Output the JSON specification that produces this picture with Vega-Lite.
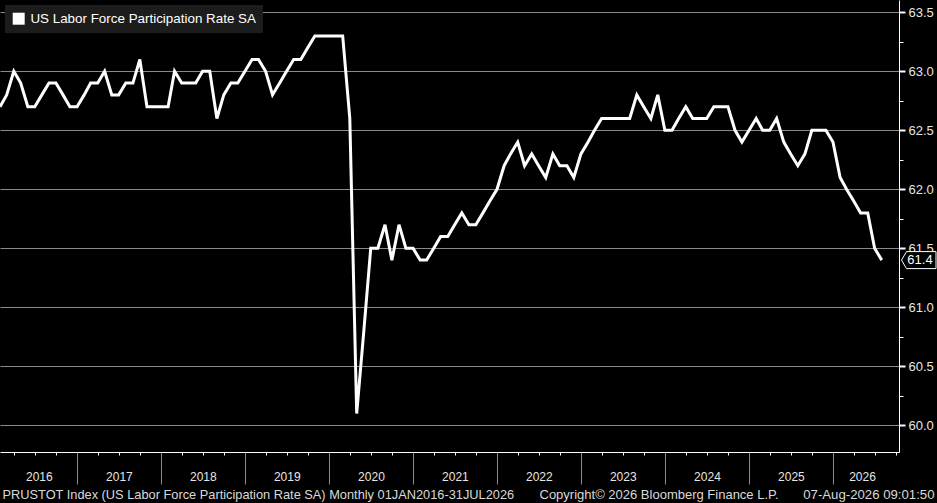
{
  "$schema": "https://vega.github.io/schema/vega-lite/v6.json",
  "width": 899,
  "height": 452,
  "autosize": {"type": "none"},
  "padding": {"left": 0, "top": 0, "right": 38, "bottom": 51},
  "background": "#000000",
  "config": {
    "view": {"stroke": null},
    "font": "Liberation Sans"
  },
  "data": {
    "values": [
      {"date": "2016-01-31", "rate": 62.7}, {"date": "2016-02-29", "rate": 62.8}, {"date": "2016-03-31", "rate": 63.0},
      {"date": "2016-04-30", "rate": 62.9}, {"date": "2016-05-31", "rate": 62.7}, {"date": "2016-06-30", "rate": 62.7},
      {"date": "2016-07-31", "rate": 62.8}, {"date": "2016-08-31", "rate": 62.9}, {"date": "2016-09-30", "rate": 62.9},
      {"date": "2016-10-31", "rate": 62.8}, {"date": "2016-11-30", "rate": 62.7}, {"date": "2016-12-31", "rate": 62.7},
      {"date": "2017-01-31", "rate": 62.8}, {"date": "2017-02-28", "rate": 62.9}, {"date": "2017-03-31", "rate": 62.9},
      {"date": "2017-04-30", "rate": 63.0}, {"date": "2017-05-31", "rate": 62.8}, {"date": "2017-06-30", "rate": 62.8},
      {"date": "2017-07-31", "rate": 62.9}, {"date": "2017-08-31", "rate": 62.9}, {"date": "2017-09-30", "rate": 63.1},
      {"date": "2017-10-31", "rate": 62.7}, {"date": "2017-11-30", "rate": 62.7}, {"date": "2017-12-31", "rate": 62.7},
      {"date": "2018-01-31", "rate": 62.7}, {"date": "2018-02-28", "rate": 63.0}, {"date": "2018-03-31", "rate": 62.9},
      {"date": "2018-04-30", "rate": 62.9}, {"date": "2018-05-31", "rate": 62.9}, {"date": "2018-06-30", "rate": 63.0},
      {"date": "2018-07-31", "rate": 63.0}, {"date": "2018-08-31", "rate": 62.6}, {"date": "2018-09-30", "rate": 62.8},
      {"date": "2018-10-31", "rate": 62.9}, {"date": "2018-11-30", "rate": 62.9}, {"date": "2018-12-31", "rate": 63.0},
      {"date": "2019-01-31", "rate": 63.1}, {"date": "2019-02-28", "rate": 63.1}, {"date": "2019-03-31", "rate": 63.0},
      {"date": "2019-04-30", "rate": 62.8}, {"date": "2019-05-31", "rate": 62.9}, {"date": "2019-06-30", "rate": 63.0},
      {"date": "2019-07-31", "rate": 63.1}, {"date": "2019-08-31", "rate": 63.1}, {"date": "2019-09-30", "rate": 63.2},
      {"date": "2019-10-31", "rate": 63.3}, {"date": "2019-11-30", "rate": 63.3}, {"date": "2019-12-31", "rate": 63.3},
      {"date": "2020-01-31", "rate": 63.3}, {"date": "2020-02-29", "rate": 63.3}, {"date": "2020-03-31", "rate": 62.6},
      {"date": "2020-04-30", "rate": 60.1}, {"date": "2020-05-31", "rate": 60.8}, {"date": "2020-06-30", "rate": 61.5},
      {"date": "2020-07-31", "rate": 61.5}, {"date": "2020-08-31", "rate": 61.7}, {"date": "2020-09-30", "rate": 61.4},
      {"date": "2020-10-31", "rate": 61.7}, {"date": "2020-11-30", "rate": 61.5}, {"date": "2020-12-31", "rate": 61.5},
      {"date": "2021-01-31", "rate": 61.4}, {"date": "2021-02-28", "rate": 61.4}, {"date": "2021-03-31", "rate": 61.5},
      {"date": "2021-04-30", "rate": 61.6}, {"date": "2021-05-31", "rate": 61.6}, {"date": "2021-06-30", "rate": 61.7},
      {"date": "2021-07-31", "rate": 61.8}, {"date": "2021-08-31", "rate": 61.7}, {"date": "2021-09-30", "rate": 61.7},
      {"date": "2021-10-31", "rate": 61.8}, {"date": "2021-11-30", "rate": 61.9}, {"date": "2021-12-31", "rate": 62.0},
      {"date": "2022-01-31", "rate": 62.2}, {"date": "2022-02-28", "rate": 62.3}, {"date": "2022-03-31", "rate": 62.4},
      {"date": "2022-04-30", "rate": 62.2}, {"date": "2022-05-31", "rate": 62.3}, {"date": "2022-06-30", "rate": 62.2},
      {"date": "2022-07-31", "rate": 62.1}, {"date": "2022-08-31", "rate": 62.3}, {"date": "2022-09-30", "rate": 62.2},
      {"date": "2022-10-31", "rate": 62.2}, {"date": "2022-11-30", "rate": 62.1}, {"date": "2022-12-31", "rate": 62.3},
      {"date": "2023-01-31", "rate": 62.4}, {"date": "2023-02-28", "rate": 62.5}, {"date": "2023-03-31", "rate": 62.6},
      {"date": "2023-04-30", "rate": 62.6}, {"date": "2023-05-31", "rate": 62.6}, {"date": "2023-06-30", "rate": 62.6},
      {"date": "2023-07-31", "rate": 62.6}, {"date": "2023-08-31", "rate": 62.8}, {"date": "2023-09-30", "rate": 62.7},
      {"date": "2023-10-31", "rate": 62.6}, {"date": "2023-11-30", "rate": 62.8}, {"date": "2023-12-31", "rate": 62.5},
      {"date": "2024-01-31", "rate": 62.5}, {"date": "2024-02-29", "rate": 62.6}, {"date": "2024-03-31", "rate": 62.7},
      {"date": "2024-04-30", "rate": 62.6}, {"date": "2024-05-31", "rate": 62.6}, {"date": "2024-06-30", "rate": 62.6},
      {"date": "2024-07-31", "rate": 62.7}, {"date": "2024-08-31", "rate": 62.7}, {"date": "2024-09-30", "rate": 62.7},
      {"date": "2024-10-31", "rate": 62.5}, {"date": "2024-11-30", "rate": 62.4}, {"date": "2024-12-31", "rate": 62.5},
      {"date": "2025-01-31", "rate": 62.6}, {"date": "2025-02-28", "rate": 62.5}, {"date": "2025-03-31", "rate": 62.5},
      {"date": "2025-04-30", "rate": 62.6}, {"date": "2025-05-31", "rate": 62.4}, {"date": "2025-06-30", "rate": 62.3},
      {"date": "2025-07-31", "rate": 62.2}, {"date": "2025-08-31", "rate": 62.3}, {"date": "2025-09-30", "rate": 62.5},
      {"date": "2025-11-30", "rate": 62.5}, {"date": "2025-12-31", "rate": 62.4},
      {"date": "2026-01-31", "rate": 62.1}, {"date": "2026-02-28", "rate": 62.0}, {"date": "2026-03-31", "rate": 61.9},
      {"date": "2026-04-30", "rate": 61.8}, {"date": "2026-05-31", "rate": 61.8}, {"date": "2026-06-30", "rate": 61.5},
      {"date": "2026-07-31", "rate": 61.4}
    ]
  },
  "resolve": {"axis": {"x": "independent", "y": "independent"}},
  "layer": [
    {
      "mark": {"type": "line", "strokeWidth": 3, "color": "#ffffff"},
      "encoding": {
        "x": {
          "field": "date", "type": "temporal",
          "scale": {"type": "utc", "domain": [{"year": 2016, "month": 1, "date": 31, "utc": true}, {"year": 2026, "month": 10, "date": 14, "utc": true}]},
          "axis": {
            "orient": "bottom",
            "values": [
              {"year": 2016, "month": 7, "date": 18, "utc": true}, {"year": 2017, "month": 7, "date": 1, "utc": true},
              {"year": 2018, "month": 7, "date": 1, "utc": true}, {"year": 2019, "month": 7, "date": 1, "utc": true},
              {"year": 2020, "month": 7, "date": 1, "utc": true}, {"year": 2021, "month": 7, "date": 1, "utc": true},
              {"year": 2022, "month": 7, "date": 1, "utc": true}, {"year": 2023, "month": 7, "date": 1, "utc": true},
              {"year": 2024, "month": 7, "date": 1, "utc": true}, {"year": 2025, "month": 7, "date": 1, "utc": true},
              {"year": 2026, "month": 5, "date": 6, "utc": true}
            ],
            "format": "%Y",
            "ticks": false, "tickSize": 0, "grid": false,
            "domain": true, "domainColor": "#ffffff", "domainWidth": 1,
            "labelColor": "#e6e6e6", "labelFontSize": 12, "labelFont": "Liberation Sans",
            "labelPadding": 19, "labelBaseline": "top", "labelAlign": "center",
            "labelFlush": false, "labelOverlap": false, "labelBound": false,
            "title": "PRUSTOT Index (US Labor Force Participation Rate SA) Monthly 01JAN2016-31JUL2026",
            "titleX": 2, "titleY": 46, "titleAlign": "left", "titleAnchor": "start", "titleBaseline": "alphabetic",
            "titleColor": "#d9d9d9", "titleFont": "Liberation Sans", "titleFontSize": 12.8, "titleFontWeight": "normal", "titleLimit": 900
          }
        },
        "y": {
          "field": "rate", "type": "quantitative",
          "scale": {"domain": [59.774, 63.604], "zero": false, "nice": false},
          "axis": {
            "orient": "right",
            "values": [60, 60.5, 61, 61.5, 62, 62.5, 63, 63.5],
            "format": ".1f",
            "grid": true, "gridColor": "#8a8a8a", "gridWidth": 1,
            "domain": true, "domainColor": "#ffffff", "domainWidth": 1,
            "ticks": true, "tickColor": "#ffffff", "tickSize": 6, "tickWidth": 2,
            "labelColor": "#e6e6e6", "labelFontSize": 13, "labelFont": "Liberation Sans", "labelPadding": 3,
            "title": null
          }
        }
      }
    },
    {
      "transform": [
        {"window": [{"op": "row_number", "as": "rn"}], "sort": [{"field": "date", "order": "descending"}]},
        {"filter": "datum.rn === 1"}
      ],
      "mark": {
        "type": "point",
        "shape": "M0.5,0L1.5,-1.7L7.4,-1.7L7.4,1.7L1.5,1.7Z",
        "size": 100, "filled": true, "fill": "#000000", "fillOpacity": 1,
        "stroke": "#ffffff", "strokeWidth": 1, "opacity": 1
      },
      "encoding": {
        "x": {
          "datum": {"year": 2026, "month": 10, "date": 14, "utc": true}, "type": "temporal",
          "scale": {"type": "utc", "domain": [{"year": 2016, "month": 1, "date": 31, "utc": true}, {"year": 2026, "month": 10, "date": 14, "utc": true}]},
          "axis": {
            "orient": "bottom",
            "values": [
              {"year": 2017, "month": 1, "date": 1, "utc": true}, {"year": 2018, "month": 1, "date": 1, "utc": true},
              {"year": 2019, "month": 1, "date": 1, "utc": true}, {"year": 2020, "month": 1, "date": 1, "utc": true},
              {"year": 2021, "month": 1, "date": 1, "utc": true}, {"year": 2022, "month": 1, "date": 1, "utc": true},
              {"year": 2023, "month": 1, "date": 1, "utc": true}, {"year": 2024, "month": 1, "date": 1, "utc": true},
              {"year": 2025, "month": 1, "date": 1, "utc": true}, {"year": 2026, "month": 1, "date": 1, "utc": true}
            ],
            "labels": false, "ticks": true, "tickSize": 32, "tickColor": "#8a8a8a", "tickWidth": 1,
            "domain": false, "grid": false,
            "title": "Copyright© 2026 Bloomberg Finance L.P.",
            "titleX": 539, "titleY": 46, "titleAlign": "left", "titleAnchor": "start", "titleBaseline": "alphabetic",
            "titleColor": "#d9d9d9", "titleFont": "Liberation Sans", "titleFontSize": 13, "titleFontWeight": "normal", "titleLimit": 900
          }
        },
        "y": {
          "field": "rate", "type": "quantitative",
          "scale": {"domain": [59.774, 63.604], "zero": false, "nice": false},
          "axis": {
            "orient": "right",
            "values": [60.25, 60.75, 61.25, 61.75, 62.25, 62.75, 63.25],
            "labels": false, "grid": false, "domain": false,
            "ticks": true, "tickSize": 4, "tickColor": "#ffffff", "tickWidth": 1,
            "title": null
          }
        }
      }
    },
    {
      "transform": [
        {"window": [{"op": "row_number", "as": "rn"}], "sort": [{"field": "date", "order": "descending"}]},
        {"filter": "datum.rn === 1"}
      ],
      "mark": {"type": "text", "dx": 21, "align": "center", "baseline": "middle", "fontSize": 13, "font": "Liberation Sans"},
      "encoding": {
        "x": {
          "datum": {"year": 2026, "month": 10, "date": 14, "utc": true}, "type": "temporal",
          "scale": {"type": "utc", "domain": [{"year": 2016, "month": 1, "date": 31, "utc": true}, {"year": 2026, "month": 10, "date": 14, "utc": true}]},
          "axis": {
            "orient": "bottom",
            "values": [
              {"year": 2016, "month": 4, "date": 1, "utc": true}, {"year": 2016, "month": 7, "date": 1, "utc": true}, {"year": 2016, "month": 10, "date": 1, "utc": true},
              {"year": 2017, "month": 4, "date": 1, "utc": true}, {"year": 2017, "month": 7, "date": 1, "utc": true}, {"year": 2017, "month": 10, "date": 1, "utc": true},
              {"year": 2018, "month": 4, "date": 1, "utc": true}, {"year": 2018, "month": 7, "date": 1, "utc": true}, {"year": 2018, "month": 10, "date": 1, "utc": true},
              {"year": 2019, "month": 4, "date": 1, "utc": true}, {"year": 2019, "month": 7, "date": 1, "utc": true}, {"year": 2019, "month": 10, "date": 1, "utc": true},
              {"year": 2020, "month": 4, "date": 1, "utc": true}, {"year": 2020, "month": 7, "date": 1, "utc": true}, {"year": 2020, "month": 10, "date": 1, "utc": true},
              {"year": 2021, "month": 4, "date": 1, "utc": true}, {"year": 2021, "month": 7, "date": 1, "utc": true}, {"year": 2021, "month": 10, "date": 1, "utc": true},
              {"year": 2022, "month": 4, "date": 1, "utc": true}, {"year": 2022, "month": 7, "date": 1, "utc": true}, {"year": 2022, "month": 10, "date": 1, "utc": true},
              {"year": 2023, "month": 4, "date": 1, "utc": true}, {"year": 2023, "month": 7, "date": 1, "utc": true}, {"year": 2023, "month": 10, "date": 1, "utc": true},
              {"year": 2024, "month": 4, "date": 1, "utc": true}, {"year": 2024, "month": 7, "date": 1, "utc": true}, {"year": 2024, "month": 10, "date": 1, "utc": true},
              {"year": 2025, "month": 4, "date": 1, "utc": true}, {"year": 2025, "month": 7, "date": 1, "utc": true}, {"year": 2025, "month": 10, "date": 1, "utc": true},
              {"year": 2026, "month": 4, "date": 1, "utc": true}, {"year": 2026, "month": 7, "date": 1, "utc": true}, {"year": 2026, "month": 10, "date": 1, "utc": true}
            ],
            "labels": false, "ticks": true, "tickSize": 3, "tickColor": "#ffffff", "tickWidth": 1,
            "domain": false, "grid": false,
            "title": "07-Aug-2026 09:01:50",
            "titleX": 934, "titleY": 46, "titleAlign": "right", "titleAnchor": "end", "titleBaseline": "alphabetic",
            "titleColor": "#d9d9d9", "titleFont": "Liberation Sans", "titleFontSize": 13.2, "titleFontWeight": "normal", "titleLimit": 900
          }
        },
        "y": {
          "field": "rate", "type": "quantitative",
          "scale": {"domain": [59.774, 63.604], "zero": false, "nice": false},
          "axis": null
        },
        "text": {"field": "rate", "type": "quantitative", "format": ".1f"},
        "color": {
          "datum": "US Labor Force Participation Rate SA",
          "scale": {"range": ["#ffffff"]},
          "legend": {
            "orient": "top-left", "offset": 5, "title": null,
            "fillColor": "#1c1c1c", "padding": 7,
            "symbolType": "square", "symbolSize": 144, "symbolStrokeWidth": 0, "symbolOpacity": 1,
            "labelColor": "#ffffff", "labelFontSize": 13.4, "labelFont": "Liberation Sans", "labelOffset": 5, "labelLimit": 400
          }
        }
      }
    }
  ]
}
